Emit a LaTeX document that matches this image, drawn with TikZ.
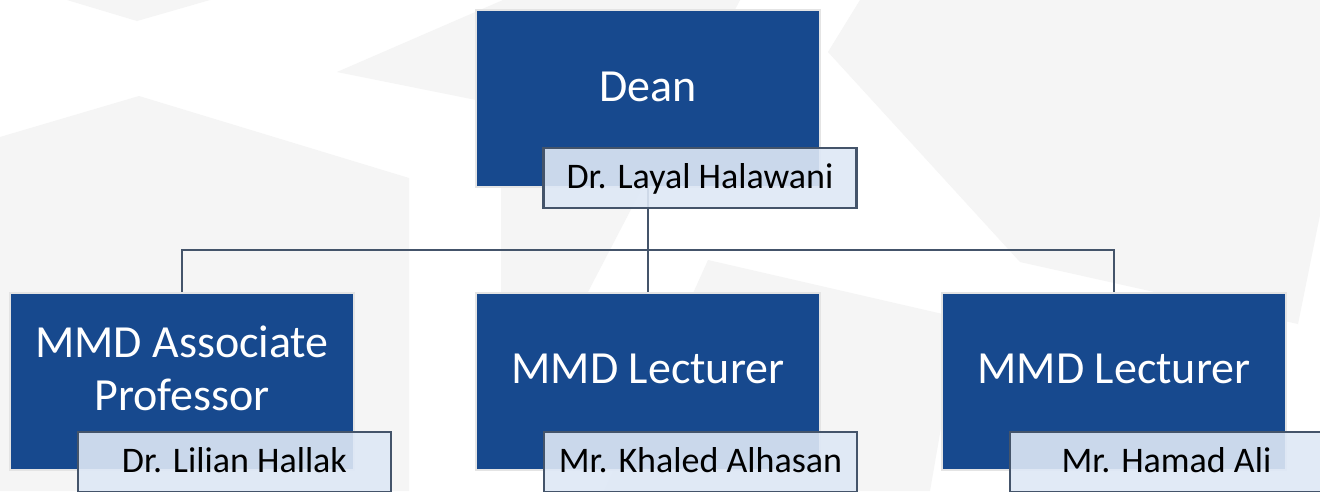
\documentclass[tikz,border=0pt]{standalone}
\usepackage{fontspec}
\setmainfont{Carlito}
\definecolor{boxblue}{RGB}{23,73,142}
\definecolor{slate}{RGB}{68,84,106}
\definecolor{namefill}{RGB}{222,232,246}
\definecolor{bggray}{RGB}{245,245,245}
\definecolor{rimgray}{RGB}{228,228,228}
\begin{document}
\begin{tikzpicture}[x=1pt,y=-1pt,
  mainbox/.style={rectangle, fill=boxblue, draw=rimgray, line width=2pt,
    minimum width=344pt, minimum height=177pt, inner sep=0pt},
  namebox/.style={rectangle, fill=namefill, fill opacity=0.9, text opacity=1,
    draw=slate, draw opacity=1, line width=2.5pt, minimum width=313pt,
    minimum height=60pt, inner sep=0pt, text height=23pt, text depth=2pt,
    font=\fontsize{36}{40}\selectfont},
  titletext/.style={text=white, align=center, inner sep=0pt,
    font=\fontsize{46}{53}\selectfont},
  conn/.style={draw=slate, line width=2.6pt},
  bgshape/.style={fill=bggray, draw=none}]
\useasboundingbox (0,0) rectangle (1320,491);
\fill[white] (0,0) rectangle (1320,491);
% background decoration
\fill[bgshape] (67,0) -- (137,21) -- (210,0) -- cycle;
\fill[bgshape] (0,137) -- (139,96) -- (409,178) -- (409,491) -- (0,491) -- cycle;
\fill[bgshape] (337,72) -- (503,0) -- (740,0) -- (589,290) -- (501,459) -- (501,105) -- cycle;
\fill[bgshape] (708,260) -- (960,318) -- (930,491) -- (604,491) -- cycle;
\fill[bgshape] (860,0) -- (828,52) -- (1020,262) -- (1298,324) -- (1320,215) -- (1320,0) -- cycle;
% boxes
\node[mainbox] (dean) at (648,98.5) {};
\node[mainbox] (assoc) at (182,381.5) {};
\node[mainbox] (lectA) at (648,381.5) {};
\node[mainbox] (lectB) at (1114,381.5) {};
% connectors
\coordinate (hub) at (648,250);
\draw[conn] (dean.south) -- (hub);
\draw[conn] (hub) -- (lectA.north);
\draw[conn] (hub) -| (assoc.north);
\draw[conn] (hub) -| (lectB.north);
% titles
\node[titletext] (deanT) at (648,86.5) {Dean};
\node[titletext] (assocT) at (182,368) {MMD Associate\\Professor};
\node[titletext] (lectAT) at (648,369) {MMD Lecturer};
\node[titletext] (lectBT) at (1114,369) {MMD Lecturer};
% name boxes
\node[namebox] (deanN) at (700,178) {Dr. Layal Halawani};
\node[namebox] (assocN) at (234.5,462) {Dr. Lilian Hallak};
\node[namebox] (lectAN) at (700.5,462) {Mr. Khaled Alhasan};
\node[namebox] (lectBN) at (1166.5,462) {Mr. Hamad Ali};
\end{tikzpicture}
\end{document}
